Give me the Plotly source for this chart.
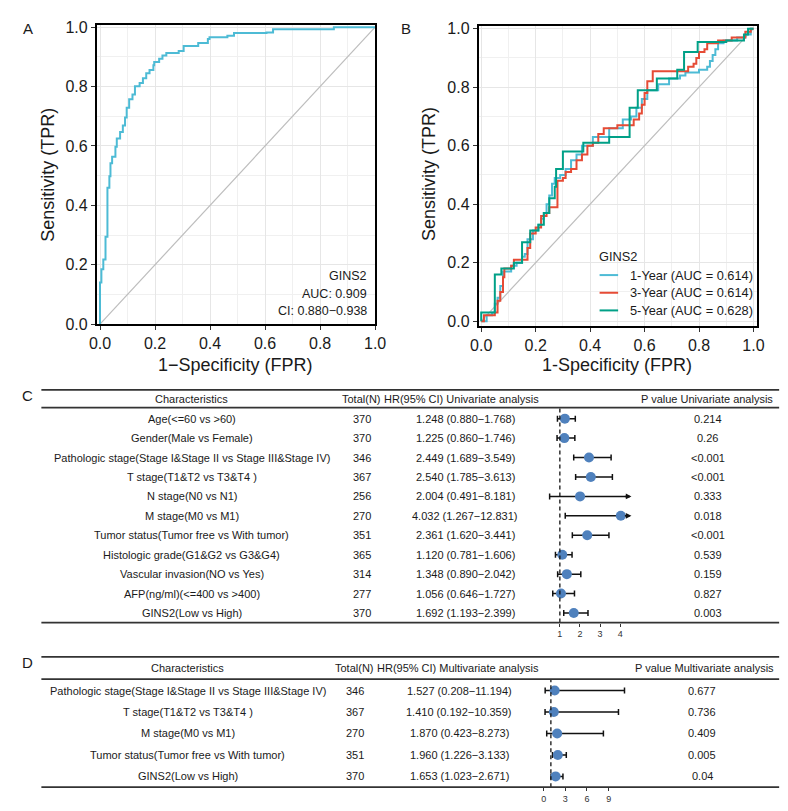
import plotly.graph_objects as go

W, H = 788, 811
FONT = "Liberation Sans, Arial, Helvetica, sans-serif"
TXT = "#1a1a1a"


def px(x):
    return x / W


def py(y):
    return 1 - y / H


# ---------------- Data: panel A ----------------
rocA_fpr = [0, 0, 0.005, 0.012, 0.020, 0.027, 0.034, 0.038, 0.044, 0.056, 0.061, 0.073, 0.083,
            0.091, 0.097, 0.106, 0.118, 0.127, 0.144, 0.156, 0.168, 0.180, 0.194, 0.197, 0.215,
            0.227, 0.241, 0.286, 0.304, 0.357, 0.392, 0.398, 0.463, 0.487, 0.605, 0.629, 0.850, 1.0]
rocA_tpr = [0, 0.140, 0.185, 0.218, 0.294, 0.459, 0.498, 0.542, 0.564, 0.597, 0.625, 0.647, 0.669,
            0.696, 0.729, 0.757, 0.773, 0.801, 0.812, 0.828, 0.845, 0.856, 0.872, 0.883, 0.894,
            0.905, 0.913, 0.920, 0.937, 0.947, 0.960, 0.966, 0.971, 0.980, 0.982, 0.993, 1.0, 1.0]
rocA_info = ["GINS2", "AUC: 0.909", "CI: 0.880−0.938"]
rocA_color = "#4DBBD5"

# ---------------- Data: panel B ----------------
roc1_fpr = [0, 0.02, 0.04, 0.05, 0.06, 0.07, 0.08, 0.10, 0.11, 0.13, 0.15, 0.16, 0.17, 0.19, 0.21,
            0.22, 0.23, 0.24, 0.25, 0.26, 0.27, 0.29, 0.31, 0.33, 0.35, 0.37, 0.41, 0.45, 0.47, 0.52,
            0.55, 0.57, 0.59, 0.61, 0.65, 0.69, 0.73, 0.75, 0.80, 0.83, 0.84, 0.85, 0.86, 0.87, 0.89,
            0.94, 0.97, 0.99, 1.0]
roc1_tpr = [0, 0.02, 0.03, 0.06, 0.08, 0.12, 0.17, 0.17, 0.19, 0.20, 0.22, 0.23, 0.28, 0.31, 0.33,
            0.35, 0.37, 0.40, 0.43, 0.47, 0.49, 0.50, 0.52, 0.55, 0.57, 0.60, 0.63, 0.63, 0.66, 0.69,
            0.70, 0.73, 0.76, 0.79, 0.81, 0.83, 0.84, 0.85, 0.86, 0.87, 0.89, 0.91, 0.93, 0.95, 0.96,
            0.97, 0.98, 1.0, 1.0]
roc3_fpr = [0, 0.01, 0.05, 0.06, 0.07, 0.08, 0.085, 0.11, 0.12, 0.15, 0.17, 0.18, 0.20, 0.22, 0.24,
            0.25, 0.27, 0.28, 0.30, 0.31, 0.33, 0.35, 0.37, 0.39, 0.41, 0.43, 0.45, 0.50, 0.55, 0.56,
            0.58, 0.59, 0.60, 0.61, 0.63, 0.74, 0.76, 0.78, 0.79, 0.80, 0.82, 0.83, 0.87, 0.92, 0.96,
            0.97, 0.99, 1.0]
roc3_tpr = [0, 0.02, 0.03, 0.07, 0.10, 0.15, 0.18, 0.19, 0.21, 0.21, 0.25, 0.30, 0.32, 0.36, 0.37,
            0.39, 0.39, 0.48, 0.49, 0.51, 0.52, 0.55, 0.57, 0.60, 0.61, 0.64, 0.66, 0.67, 0.67, 0.69,
            0.71, 0.74, 0.78, 0.82, 0.855, 0.855, 0.87, 0.88, 0.90, 0.92, 0.93, 0.95, 0.96, 0.97, 0.97,
            0.99, 1.0, 1.0]
roc5_fpr = [0, 0, 0.05, 0.05, 0.074, 0.12, 0.15, 0.18, 0.21, 0.23, 0.25, 0.27, 0.275, 0.30, 0.375,
            0.47, 0.545, 0.575, 0.645, 0.72, 0.745, 0.795, 0.90, 0.965, 0.98, 1.0]
roc5_tpr = [0, 0.03, 0.03, 0.16, 0.18, 0.20, 0.27, 0.31, 0.33, 0.37, 0.42, 0.46, 0.52, 0.58, 0.61,
            0.63, 0.73, 0.79, 0.83, 0.86, 0.92, 0.955, 0.96, 0.98, 1.0, 1.0]
rocB_title = "GINS2"
rocB_names = ["1-Year (AUC = 0.614)", "3-Year (AUC = 0.614)", "5-Year (AUC = 0.628)"]
rocB_colors = ["#4DBBD5", "#E64B35", "#00A087"]

diag_x = [0, 1]
diag_y = [0, 1]
roc_ticks = [0, 0.2, 0.4, 0.6, 0.8, 1.0]
roc_ticktext = ["0.0", "0.2", "0.4", "0.6", "0.8", "1.0"]
roc_minor = [0.1, 0.3, 0.5, 0.7, 0.9]

# ---------------- Data: panel C (univariate) ----------------
uni_headers = ["Characteristics", "Total(N)", "HR(95% CI) Univariate analysis", "P value Univariate analysis"]
uni_chars = ["Age(<=60 vs >60)", "Gender(Male vs Female)",
             "Pathologic stage(Stage I&Stage II vs Stage III&Stage IV)", "T stage(T1&T2 vs T3&T4 )",
             "N stage(N0 vs N1)", "M stage(M0 vs M1)", "Tumor status(Tumor free vs With tumor)",
             "Histologic grade(G1&G2 vs G3&G4)", "Vascular invasion(NO vs Yes)",
             "AFP(ng/ml)(<=400 vs >400)", "GINS2(Low vs High)"]
uni_total = [370, 370, 346, 367, 256, 270, 351, 365, 314, 277, 370]
uni_hr = [1.248, 1.225, 2.449, 2.540, 2.004, 4.032, 2.361, 1.120, 1.348, 1.056, 1.692]
uni_lo = [0.880, 0.860, 1.689, 1.785, 0.491, 1.267, 1.620, 0.781, 0.890, 0.646, 1.193]
uni_hi = [1.768, 1.746, 3.549, 3.613, 8.181, 12.831, 3.441, 1.606, 2.042, 1.727, 2.399]
uni_p = ["0.214", "0.26", "<0.001", "<0.001", "0.333", "0.018", "<0.001", "0.539", "0.159", "0.827", "0.003"]
uni_ticks = [1, 2, 3, 4]
uni_xmax = 4.56

# ---------------- Data: panel D (multivariate) ----------------
mul_headers = ["Characteristics", "Total(N)", "HR(95% CI) Multivariate analysis", "P value Multivariate analysis"]
mul_chars = ["Pathologic stage(Stage I&Stage II vs Stage III&Stage IV)", "T stage(T1&T2 vs T3&T4 )",
             "M stage(M0 vs M1)", "Tumor status(Tumor free vs With tumor)", "GINS2(Low vs High)"]
mul_total = [346, 367, 270, 351, 370]
mul_hr = [1.527, 1.410, 1.870, 1.960, 1.653]
mul_lo = [0.208, 0.192, 0.423, 1.226, 1.023]
mul_hi = [11.194, 10.359, 8.273, 3.133, 2.671]
mul_p = ["0.677", "0.736", "0.409", "0.005", "0.04"]
mul_ticks = [0, 3, 6, 9]
mul_xmax = 11.4

POINT_COLOR = "#4F81BD"
TFS = 11  # table font size

fig = go.Figure()

# ---------------- Panel A ----------------
fig.add_trace(go.Scatter(x=diag_x, y=diag_y, mode="lines", line=dict(color="#BDBDBD", width=1.2),
                         xaxis="x", yaxis="y", showlegend=False, hoverinfo="skip"))
fig.add_trace(go.Scatter(x=rocA_fpr, y=rocA_tpr, mode="lines", line=dict(color=rocA_color, width=2, shape="hv"),
                         xaxis="x", yaxis="y", name="GINS2", showlegend=False))

# ---------------- Panel B ----------------
fig.add_trace(go.Scatter(x=diag_x, y=diag_y, mode="lines", line=dict(color="#BDBDBD", width=1.2),
                         xaxis="x2", yaxis="y2", showlegend=False, hoverinfo="skip"))
for fx, ty, nm, col in zip([roc1_fpr, roc3_fpr, roc5_fpr], [roc1_tpr, roc3_tpr, roc5_tpr], rocB_names, rocB_colors):
    fig.add_trace(go.Scatter(x=fx, y=ty, mode="lines", line=dict(color=col, width=2, shape="hv"),
                             xaxis="x2", yaxis="y2", name=nm, showlegend=False))


# ---------------- Forest plots ----------------
def add_forest(hr, lo, hi, xmax, xa, ya):
    rows = list(range(len(hr)))
    plus, minus = [], []
    for h, l, u, i in zip(hr, lo, hi, rows):
        minus.append(h - l)
        if u > xmax:
            plus.append(0)
            fig.add_trace(go.Scatter(x=[h, xmax - 0.2], y=[i, i], mode="lines",
                                     line=dict(color="#111111", width=1.5),
                                     xaxis=xa, yaxis=ya, showlegend=False, hoverinfo="skip"))
            fig.add_annotation(x=xmax, y=i, ax=xmax - 0.4, ay=i, xref=xa, yref=ya, axref=xa, ayref=ya,
                               text="", showarrow=True, arrowhead=2, arrowsize=0.75, arrowwidth=1.5,
                               arrowcolor="#111111")
        else:
            plus.append(u - h)
    fig.add_trace(go.Scatter(x=hr, y=rows, mode="markers",
                             marker=dict(color=POINT_COLOR, size=10),
                             error_x=dict(type="data", symmetric=False, array=plus, arrayminus=minus,
                                          color="#111111", thickness=1.5, width=3),
                             xaxis=xa, yaxis=ya, showlegend=False))
    fig.add_shape(type="line", xref=xa, yref=ya + " domain", x0=1, x1=1, y0=0, y1=1,
                  line=dict(color="#111111", width=1.3, dash="4px,3px"))


add_forest(uni_hr, uni_lo, uni_hi, uni_xmax, "x3", "y3")
add_forest(mul_hr, mul_lo, mul_hi, mul_xmax, "x4", "y4")

# ---------------- Axes ----------------
roc_axis = dict(showline=True, mirror=True, linecolor="black", linewidth=1.6,
                ticks="outside", ticklen=4, tickwidth=1.2, tickcolor="#333333",
                tickfont=dict(size=16, color=TXT, family=FONT),
                tickvals=roc_ticks, ticktext=roc_ticktext,
                showgrid=True, gridcolor="#E6E6E6", gridwidth=1.4, zeroline=False,
                minor=dict(tickvals=roc_minor, showgrid=True, gridcolor="#F0F0F0", gridwidth=1, ticks=""))

forest_axis = dict(showline=False, showgrid=False, zeroline=False, ticks="outside", ticklen=3,
                   tickwidth=1, tickcolor="#333333", tickfont=dict(size=9, color="#333333", family=FONT))

fig.update_layout(
    width=W, height=H, margin=dict(l=0, r=0, t=0, b=0),
    paper_bgcolor="white", plot_bgcolor="white",
    font=dict(family=FONT, color=TXT),
    showlegend=False,
    xaxis=dict(domain=[px(82.7), px(368)], range=[-0.012, 1.0], anchor="y", **roc_axis),
    yaxis=dict(domain=[py(316), py(11)], range=[0, 1.008], anchor="x", **roc_axis),
    xaxis2=dict(domain=[px(474), px(759)], range=[-0.0097, 1.0118], anchor="y2", **roc_axis),
    yaxis2=dict(domain=[py(318), py(12.7)], range=[-0.0168, 1.0077], anchor="x2", **roc_axis),
    xaxis3=dict(domain=[px(536.7), px(536.7 + 20.6 * uni_xmax)], range=[0, uni_xmax], anchor="y3",
                tickvals=uni_ticks, **forest_axis),
    yaxis3=dict(domain=[py(620), py(400)], range=[10.49, -0.62], anchor="x3", visible=False),
    xaxis4=dict(domain=[px(540.7), px(540.7 + 7.4 * mul_xmax)], range=[0, mul_xmax], anchor="y4",
                tickvals=mul_ticks, **forest_axis),
    yaxis4=dict(domain=[py(787.7), py(677.7)], range=[4.5, -0.53], anchor="x4", visible=False),
)


def ann(text, x, y, size, xanchor="center", yanchor="middle", angle=0, color=TXT, **kw):
    fig.add_annotation(text=text, x=x, y=y, xref=kw.pop("xref", "paper"), yref=kw.pop("yref", "paper"),
                       showarrow=False, xanchor=xanchor, yanchor=yanchor, textangle=angle,
                       font=dict(size=size, color=color, family=FONT), **kw)


# Panel letters
ann("A", px(12), py(15), 15)
ann("B", px(400), py(15), 15)
ann("C", px(12), py(389), 15)
ann("D", px(12), py(661), 15)

# Axis titles
ann("1−Specificity (FPR)", px(225), py(358), 18)
ann("Sensitivity (TPR)", px(33), py(163.5), 18, angle=-90)
ann("1-Specificity (FPR)", px(616), py(358), 18)
ann("Sensitivity (TPR)", px(423.3), py(163), 18, angle=-90)

# Panel A info text
for k, t in enumerate(rocA_info):
    ann(t, px(362), py(267 + 18 * k), 12.5, xanchor="right")

# Panel B legend
ann(rocB_title, px(595.7), py(247), 12.8, xanchor="left")
for k, (nm, col) in enumerate(zip(rocB_names, rocB_colors)):
    yy = py(266 + 18 * k)
    fig.add_shape(type="line", xref="paper", yref="paper", x0=px(598), x1=px(617), y0=yy, y1=yy,
                  line=dict(color=col, width=2))
    ann(nm, px(627), yy, 12.8, xanchor="left")

# ---------------- Tables ----------------
LINE = dict(color="#333333", width=1.8)
for yline in [383, 401, 620, 655, 677.7, 787.7]:
    fig.add_shape(type="line", xref="paper", yref="paper", x0=px(26), x1=px(782), y0=py(yline), y1=py(yline),
                  line=LINE)

# Table C
c_cols = [180, 354, 457, 708]
for h, cx in zip(uni_headers, c_cols):
    ann(h, px(cx), py(392), TFS)
for i in range(len(uni_chars)):
    ann(uni_chars[i], px(180), i, TFS, yref="y3")
    ann(str(uni_total[i]), px(355), i, TFS, yref="y3")
    ann(f"{uni_hr[i]:.3f} ({uni_lo[i]:.3f}−{uni_hi[i]:.3f})", px(460.5), i, TFS, yref="y3")
    ann(uni_p[i], px(709), i, TFS, yref="y3")

# Table D
d_cols = [176, 347, 453, 706]
for h, cx in zip(mul_headers, d_cols):
    ann(h, px(cx), py(666.7), TFS)
for i in range(len(mul_chars)):
    ann(mul_chars[i], px(176), i, TFS, yref="y4")
    ann(str(mul_total[i]), px(347), i, TFS, yref="y4")
    ann(f"{mul_hr[i]:.3f} ({mul_lo[i]:.3f}−{mul_hi[i]:.3f})", px(454), i, TFS, yref="y4")
    ann(mul_p[i], px(703), i, TFS, yref="y4")

fig.write_html("out.html")
